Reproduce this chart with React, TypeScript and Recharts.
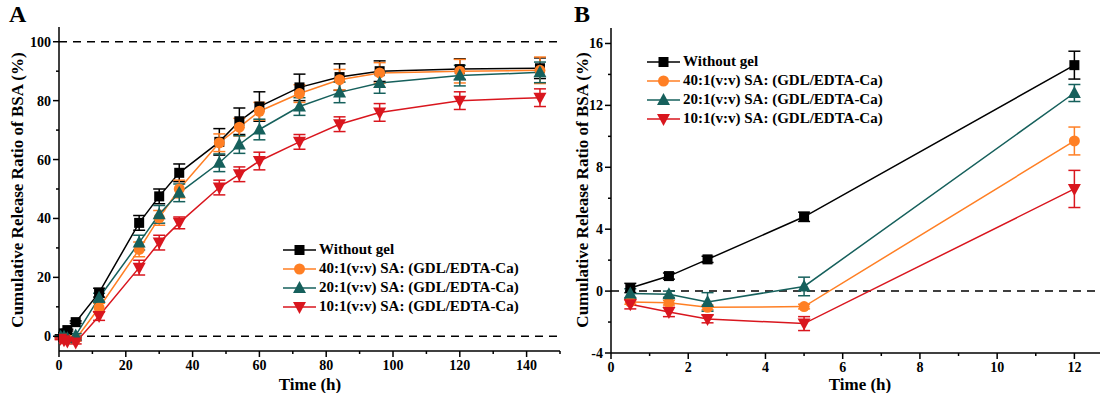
import React from "react";
import {
  LineChart,
  Line,
  XAxis,
  YAxis,
  ErrorBar,
  ReferenceLine,
} from "recharts";

// panel A: whole release profile
const timesA = [0.5, 1.5, 2.5, 5, 12, 24, 30, 36, 48, 54, 60, 72, 84, 96, 120, 144];
const noGelA = [0.2, 1.0, 2.1, 4.8, 14.8, 38.5, 47.5, 55.5, 66, 73, 78, 84.5, 88, 90, 90.7, 91];
const noGelErrA = [0.3, 0.3, 0.3, 0.4, 1.5, 2.5, 2.5, 3, 4.5, 4.5, 5, 4.5, 4.5, 3.5, 3.5, 3.5];
const r40A = [-0.7, -0.75, -1.05, -1.0, 9.7, 29.5, 40.2, 50, 65.7, 71, 76.4, 82.4, 87.1, 89.4, 90, 90.3];
const r40ErrA = [0.3, 0.3, 0.3, 0.3, 1.5, 2.5, 2.5, 3, 3, 3, 3, 3, 3.5, 3.5, 4, 4.5];
const r20A = [-0.15, -0.2, -0.7, 0.3, 13.1, 31.8, 41.4, 48.7, 58.9, 65.1, 70.2, 78, 82.8, 86, 88.5, 89.6];
const r20ErrA = [0.3, 0.3, 0.6, 0.6, 1.5, 2.5, 3, 3, 3, 3, 3.5, 3, 3.5, 3.5, 3.5, 3.5];
const r10A = [-0.85, -1.35, -1.8, -2.1, 6.9, 23.3, 31.8, 38.5, 50.5, 55, 59.5, 66, 72, 76, 80, 81];
const r10ErrA = [0.3, 0.3, 0.3, 0.5, 1.5, 2.5, 2.5, 2, 2.5, 2.5, 3, 2.5, 2.5, 3, 3, 3];

// panel B: first 12 h
const timesB = [0.5, 1.5, 2.5, 5, 12];
const noGelB = [0.2, 0.97, 2.05, 4.8, 14.6];
const noGelErrB = [0.3, 0.2, 0.2, 0.3, 0.9];
const r40B = [-0.7, -0.75, -1.05, -1.0, 9.7];
const r40ErrB = [0.15, 0.15, 0.15, 0.15, 0.9];
const r20B = [-0.15, -0.2, -0.7, 0.3, 12.8];
const r20ErrB = [0.3, 0.2, 0.6, 0.6, 0.55];
const r10B = [-0.85, -1.35, -1.8, -2.1, 6.6];
const r10ErrB = [0.3, 0.3, 0.25, 0.45, 1.2];

const seriesNames = [
  "Without gel",
  "40:1(v:v) SA: (GDL/EDTA-Ca)",
  "20:1(v:v) SA: (GDL/EDTA-Ca)",
  "10:1(v:v) SA: (GDL/EDTA-Ca)",
];

const xTicksA = [0, 10, 20, 30, 40, 50, 60, 70, 80, 90, 100, 110, 120, 130, 140, 150];
const yTicksA = [0, 10, 20, 30, 40, 50, 60, 70, 80, 90, 100];
const xTicksB = [0, 1, 2, 3, 4, 5, 6, 7, 8, 9, 10, 11, 12, 13];
const yTicksB = [-4, -2, 0, 2, 4, 6, 8, 10, 12, 14, 16];

const COLORS = ["#000000", "#FF7F24", "#16605C", "#D9161E"];
const SHAPES = ["square", "circle", "up", "down"];
const FONT = '"Liberation Serif", "Times New Roman", serif';

const buildRows = (t: number[], a: number[][]) =>
  t.map((x, i) => ({
    t: x,
    s0: a[0][i], e0: a[1][i],
    s1: a[2][i], e1: a[3][i],
    s2: a[4][i], e2: a[5][i],
    s3: a[6][i], e3: a[7][i],
  }));

const rowsA = buildRows(timesA, [noGelA, noGelErrA, r40A, r40ErrA, r20A, r20ErrA, r10A, r10ErrA]);
const rowsB = buildRows(timesB, [noGelB, noGelErrB, r40B, r40ErrB, r20B, r20ErrB, r10B, r10ErrB]);

function Marker({ shape, cx, cy, color }: { shape: string; cx: number; cy: number; color: string }) {
  if (shape === "square") return <rect x={cx - 5} y={cy - 5} width={10} height={10} fill={color} />;
  if (shape === "circle") return <circle cx={cx} cy={cy} r={5.5} fill={color} />;
  if (shape === "up")
    return <polygon points={`${cx},${cy - 7} ${cx - 6.5},${cy + 5} ${cx + 6.5},${cy + 5}`} fill={color} />;
  return <polygon points={`${cx},${cy + 7} ${cx - 6.5},${cy - 5} ${cx + 6.5},${cy - 5}`} fill={color} />;
}

// tickSize 6 + tickMargin 3 => label anchor sits 9px off the axis line
const yTick = (step: number) => (p: any) => {
  const v = p.payload.value;
  const major = Math.abs(v % step) < 1e-9;
  const ax = p.x + 9;
  return (
    <g>
      <line x1={ax - (major ? 6 : 3)} x2={ax} y1={p.y} y2={p.y} stroke="#000" strokeWidth={1.5} />
      {major && (
        <text x={ax - 8} y={p.y} dy={5} textAnchor="end" fontFamily={FONT} fontWeight="bold" fontSize={14} fill="#000">
          {v}
        </text>
      )}
    </g>
  );
};

const xTick = (step: number, maxLabel: number) => (p: any) => {
  const v = p.payload.value;
  const major = Math.abs(v % step) < 1e-9;
  const ay = p.y - 9;
  return (
    <g>
      <line x1={p.x} x2={p.x} y1={ay} y2={ay + (major ? 6 : 3)} stroke="#000" strokeWidth={1.5} />
      {major && v <= maxLabel && (
        <text x={p.x} y={ay + 19} textAnchor="middle" fontFamily={FONT} fontWeight="bold" fontSize={14} fill="#000">
          {v}
        </text>
      )}
    </g>
  );
};

function Legend({ left, top }: { left: number; top: number }) {
  return (
    <div style={{ position: "absolute", left, top, fontFamily: FONT, fontWeight: "bold", fontSize: 15 }}>
      {seriesNames.map((n, i) => (
        <div key={n} style={{ display: "flex", alignItems: "center", height: 19, whiteSpace: "nowrap" }}>
          <svg width={36} height={16}>
            <line x1={0} x2={33} y1={8} y2={8} stroke={COLORS[i]} strokeWidth={1.5} />
            <Marker shape={SHAPES[i]} cx={16.5} cy={8} color={COLORS[i]} />
          </svg>
          <span>{n}</span>
        </div>
      ))}
    </div>
  );
}

function seriesLines(capW: number) {
  return [0, 1, 2, 3].map((i) => (
    <Line
      key={i}
      type="linear"
      dataKey={`s${i}`}
      stroke={COLORS[i]}
      strokeWidth={1.5}
      isAnimationActive={false}
      dot={(p: any) => <Marker key={`d${i}-${p.index}`} shape={SHAPES[i]} cx={p.cx} cy={p.cy} color={COLORS[i]} />}
      activeDot={false}
    >
      <ErrorBar dataKey={`e${i}`} direction="y" width={capW} stroke={COLORS[i]} strokeWidth={1.5} />
    </Line>
  ));
}

const axisStroke = { stroke: "#000", strokeWidth: 1.5 };

const panelLetter: React.CSSProperties = {
  position: "absolute",
  top: 2,
  fontFamily: FONT,
  fontWeight: "bold",
  fontSize: 24,
  lineHeight: "24px",
};

const yLabel: React.CSSProperties = {
  position: "absolute",
  top: 190,
  transform: "translate(-50%, -50%) rotate(-90deg)",
  fontFamily: FONT,
  fontWeight: "bold",
  fontSize: 17,
  whiteSpace: "nowrap",
};

const xLabel: React.CSSProperties = {
  position: "absolute",
  top: 384,
  transform: "translate(-50%, -50%)",
  fontFamily: FONT,
  fontWeight: "bold",
  fontSize: 17,
  lineHeight: "17px",
  whiteSpace: "nowrap",
};

export default function App() {
  return (
    <div style={{ position: "absolute", left: 0, top: 0, width: 1100, height: 393, overflow: "hidden", background: "#fff" }}>
      {/* panel A */}
      <div style={{ position: "absolute", left: 0, top: 0 }}>
        <LineChart width={570} height={393} data={rowsA} margin={{ top: 27, right: 10, bottom: 0, left: 0 }}>
          <XAxis
            dataKey="t"
            type="number"
            domain={[0, 150]}
            ticks={xTicksA}
            interval={0}
            height={42}
            tickSize={6}
            tickMargin={3}
            tickLine={false}
            axisLine={axisStroke}
            tick={xTick(20, 140)}
            allowDataOverflow
          />
          <XAxis xAxisId="top" orientation="top" type="number" domain={[0, 150]} height={0} tick={false} tickLine={false} axisLine={axisStroke} />
          <YAxis
            type="number"
            domain={[-5, 105]}
            ticks={yTicksA}
            interval={0}
            width={59}
            tickSize={6}
            tickMargin={3}
            tickLine={false}
            axisLine={axisStroke}
            tick={yTick(20)}
            allowDataOverflow
          />
          <YAxis yAxisId="right" orientation="right" type="number" domain={[-5, 105]} width={0} tick={false} tickLine={false} axisLine={axisStroke} />
          <ReferenceLine y={100} stroke="#000" strokeWidth={1.5} strokeDasharray="8 6" />
          <ReferenceLine y={0} stroke="#000" strokeWidth={1.5} strokeDasharray="8 6" />
          {seriesLines(6)}
        </LineChart>
        <Legend left={283} top={240} />
        <div style={{ ...panelLetter, left: 9 }}>A</div>
        <div style={{ ...yLabel, left: 18 }}>Cumulative Release Ratio of BSA (%)</div>
        <div style={{ ...xLabel, left: 310 }}>Time (h)</div>
      </div>

      {/* panel B */}
      <div style={{ position: "absolute", left: 570, top: 0 }}>
        <LineChart width={543} height={393} data={rowsB} margin={{ top: 28, right: 0, bottom: 0, left: 0 }}>
          <XAxis
            dataKey="t"
            type="number"
            domain={[0, 13]}
            ticks={xTicksB}
            interval={0}
            height={40}
            tickSize={6}
            tickMargin={3}
            tickLine={false}
            axisLine={axisStroke}
            tick={xTick(2, 12)}
            allowDataOverflow
          />
          <XAxis xAxisId="top" orientation="top" type="number" domain={[0, 13]} height={0} tick={false} tickLine={false} axisLine={axisStroke} />
          <YAxis
            type="number"
            domain={[-4, 17]}
            ticks={yTicksB}
            interval={0}
            width={41}
            tickSize={6}
            tickMargin={3}
            tickLine={false}
            axisLine={axisStroke}
            tick={yTick(4)}
            allowDataOverflow
          />
          <ReferenceLine y={0} stroke="#000" strokeWidth={1.5} strokeDasharray="8 6" />
          {seriesLines(6)}
        </LineChart>
        <Legend left={77} top={52} />
        <div style={{ ...panelLetter, left: 4 }}>B</div>
        <div style={{ ...yLabel, left: 13 }}>Cumulative Release Ratio of BSA (%)</div>
        <div style={{ ...xLabel, left: 290 }}>Time (h)</div>
      </div>
    </div>
  );
}
